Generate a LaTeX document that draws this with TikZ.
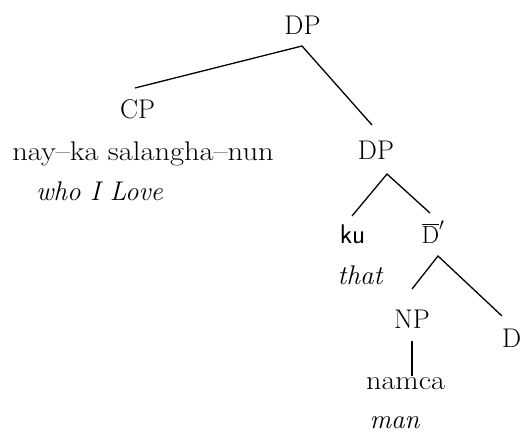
\documentclass[tikz,border=0pt]{standalone}
\begin{document}
\begin{tikzpicture}[x=1pt,y=-1pt,
  lbl/.style={anchor=base,inner sep=0pt,font=\fontsize{27}{32}\selectfont},
  edge/.style={line width=1.3pt}]
\useasboundingbox (0,0) rectangle (521,432);
\node[lbl] (dp1) at (302.5,34) {DP};
\node[lbl] (cp) at (137.5,118) {CP};
\node[lbl] (cpw) at (143,160) {\scalebox{1.13}[1]{nay--ka salangha--nun}};
\node[lbl] (cpg) at (99.5,200) {\itshape who I Love};
\node[lbl] (dp2) at (376,159) {DP};
\node[lbl,font=\fontsize{27}{32}\selectfont\sffamily] (ku) at (352.5,243) {ku};
\node[lbl] (kug) at (360,284) {\itshape that};
\node[lbl] (dbar) at (433,243) {$\overline{\mathrm{D}}'$};
\node[lbl] (np) at (412,328) {NP};
\node[lbl] (namca) at (405.5,389) {\scalebox{1.12}[1]{namca}};
\node[lbl] (man) at (394.5,428) {\itshape man};
\node[lbl,anchor=base west] (d) at (502,347) {D};
\coordinate (a1) at (302,46);
\coordinate (a1l) at (135,88);
\coordinate (a1r) at (372,125);
\coordinate (a2) at (387,174);
\coordinate (a2l) at (352,216);
\coordinate (a2r) at (430,213);
\coordinate (a3) at (438,256);
\coordinate (a3l) at (412,289);
\coordinate (a3r) at (502,316);
\coordinate (v1) at (412,341);
\coordinate (v2) at (412,376);
\draw[edge] (a1l) -- (a1) -- (a1r);
\draw[edge] (a2l) -- (a2) -- (a2r);
\draw[edge] (a3l) -- (a3) -- (a3r);
\draw[edge] (v1) -- (v2);
\end{tikzpicture}
\end{document}
